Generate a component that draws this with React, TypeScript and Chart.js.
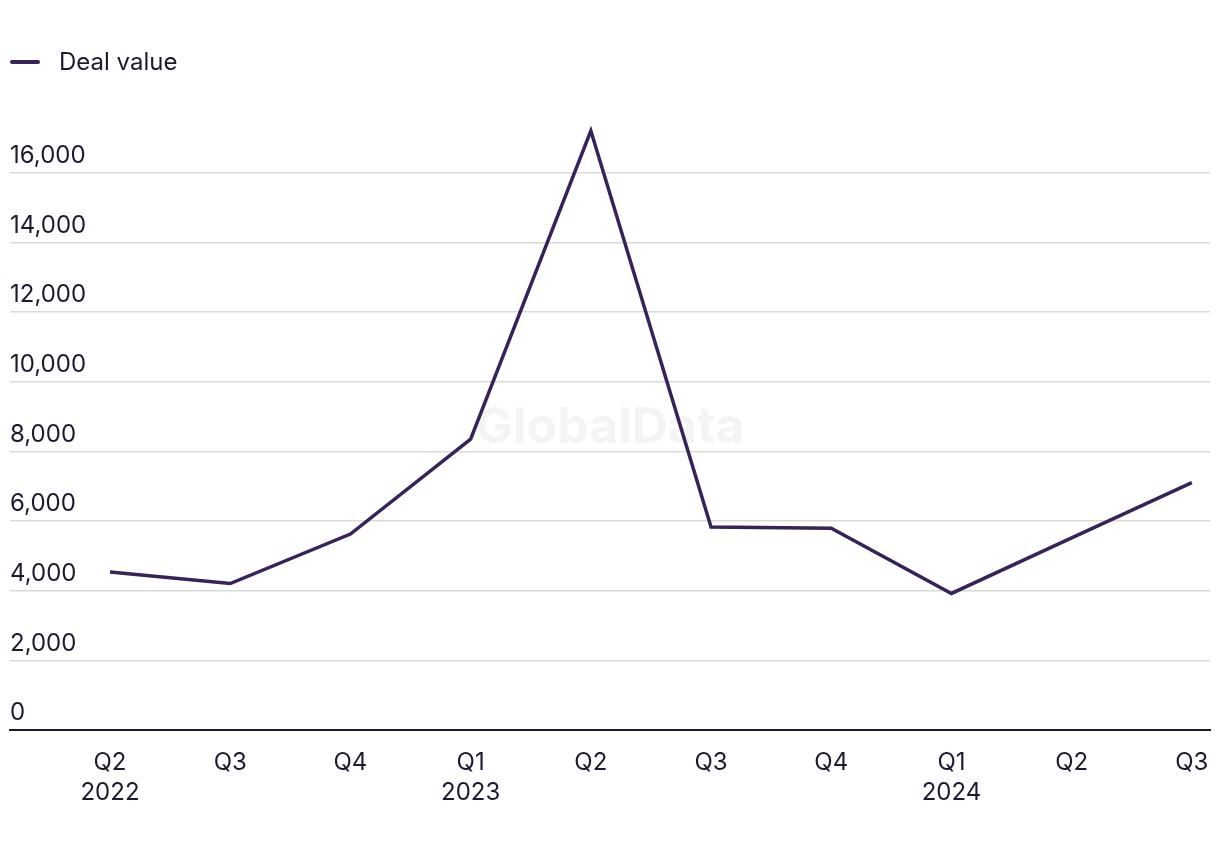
import React, { useEffect, useRef } from "react";
import { Chart, registerables } from "chart.js";

Chart.register(...registerables);

const quarterLabels: string[][] = [
  ["Q2", "2022"], ["Q3"], ["Q4"], ["Q1", "2023"], ["Q2"],
  ["Q3"], ["Q4"], ["Q1", "2024"], ["Q2"], ["Q3"],
];
const dealValues: number[] = [4535, 4205, 5626, 8352, 17200, 5830, 5790, 3920, 5515, 7100];
const yTicks: number[] = [0, 2000, 4000, 6000, 8000, 10000, 12000, 14000, 16000];
const seriesName = "Deal value";

const LINE = "#35235a";
const TEXT = "#1c1b2e";
const FONT = "Inter, 'Noto Sans', sans-serif";

const watermark = {
  id: "watermark",
  beforeDatasetsDraw(chart: any) {
    const { ctx, chartArea } = chart;
    ctx.save();
    ctx.font = `bold 50px ${FONT}`;
    ctx.fillStyle = "rgba(0,0,0,0.045)";
    ctx.textAlign = "center";
    ctx.textBaseline = "middle";
    ctx.fillText("GlobalData", (chartArea.left + chartArea.right) / 2, 420);
    ctx.restore();
  },
};

export default function App() {
  const ref = useRef<HTMLCanvasElement | null>(null);
  useEffect(() => {
    if (!ref.current) return;
    const chart = new Chart(ref.current, {
      type: "line",
      data: {
        datasets: [
          {
            label: seriesName,
            data: dealValues.map((v, i) => ({ x: i, y: v })),
            borderColor: LINE,
            backgroundColor: LINE,
            borderWidth: 3.5,
            pointRadius: 0,
            tension: 0,
          },
        ],
      },
      options: {
        animation: false,
        responsive: true,
        maintainAspectRatio: false,
        layout: { padding: { left: 2, right: 2, top: 95, bottom: 16 } },
        plugins: {
          tooltip: { enabled: false },
          legend: { display: false },
        },
        scales: {
          x: {
            type: "linear",
            min: -0.832,
            max: 9.151,
            afterBuildTicks: (scale: any) => {
              scale.ticks = quarterLabels.map((_, i) => ({ value: i }));
            },
            afterFit: (scale: any) => {
              scale.paddingLeft = 0;
              scale.paddingRight = 0;
            },
            grid: { display: false, drawTicks: false },
            border: { display: true, color: "#1a1a2a", width: 2 },
            ticks: {
              color: TEXT,
              font: { family: FONT, size: 24, lineHeight: 1.25 },
              padding: 18,
              maxRotation: 0,
              autoSkip: false,
              callback: (v: any) => quarterLabels[Math.round(Number(v))] ?? "",
            },
          },
          y: {
            min: 0,
            max: 18000,
            afterBuildTicks: (scale: any) => {
              scale.ticks = yTicks.map((v) => ({ value: v }));
            },
            afterFit: (scale: any) => {
              scale.paddingTop = 0;
              scale.paddingBottom = 0;
            },
            grid: { color: "#d9d9d9", lineWidth: 1.5, drawTicks: false },
            border: { display: false },
            ticks: {
              mirror: true,
              padding: 0,
              labelOffset: -17,
              color: TEXT,
              font: { family: FONT, size: 24 },
              callback: (v: any) => Number(v).toLocaleString("en-US"),
            },
          },
        },
      },
      plugins: [watermark],
    });
    return () => chart.destroy();
  }, []);
  return (
    <div style={{ width: "100%", height: 834, position: "relative" }}>
      <div
        style={{
          position: "absolute",
          left: 2,
          top: 40,
          display: "flex",
          alignItems: "center",
          fontFamily: FONT,
          fontSize: 24,
          lineHeight: "28px",
          color: TEXT,
        }}
      >
        <span
          style={{
            display: "inline-block",
            width: 30,
            height: 4,
            borderRadius: 2,
            background: LINE,
            marginRight: 19,
          }}
        />
        <span>{seriesName}</span>
      </div>
      <canvas ref={ref} />
    </div>
  );
}
